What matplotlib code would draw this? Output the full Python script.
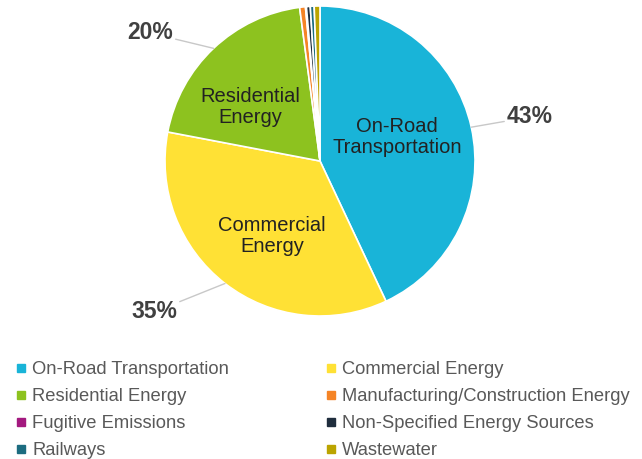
import numpy as np
import matplotlib
matplotlib.use('Agg')
import matplotlib.pyplot as plt
from matplotlib.lines import Line2D

plt.rcParams['font.family'] = ['Liberation Sans', 'DejaVu Sans']

# --- data ---
sectors = ['On-Road Transportation', 'Commercial Energy', 'Residential Energy',
           'Manufacturing/Construction Energy', 'Fugitive Emissions',
           'Non-Specified Energy Sources', 'Railways', 'Wastewater']
shares = [43.0, 35.0, 19.9, 0.6, 0.1, 0.4, 0.4, 0.6]
colors = ['#19B4D8', '#FFE135', '#8DC21F', '#F58426', '#A3197F',
          '#1F2D3D', '#1C6C80', '#BBA400']
inner_labels = ['On-Road\nTransportation', 'Commercial\nEnergy', 'Residential\nEnergy']
pct_labels = ['43%', '35%', '20%']

# label placement (data units, pie radius = 1)
inner_pos = [(0.497, 0.155), (-0.31, -0.484), (-0.452, 0.348)]
pct_pos = [(1.355, 0.284), (-1.071, -0.974), (-1.097, 0.826)]

W, H, DPI = 642, 459, 100
fig = plt.figure(figsize=(W / DPI, H / DPI), dpi=DPI)
cx, cy, box = 320, 161, 320
ax = fig.add_axes([(cx - box / 2) / W, (H - cy - box / 2) / H, box / W, box / H])

wedges, _ = ax.pie(shares, colors=colors, startangle=90, counterclock=False,
                   wedgeprops=dict(edgecolor='white', linewidth=1.2))
lim = box / 2 / 155
ax.set_xlim(-lim, lim)
ax.set_ylim(-lim, lim)
ax.set_aspect('equal')

for (x, y), txt in zip(inner_pos, inner_labels):
    ax.text(x, y, txt, ha='center', va='center', fontsize=14.5, color='#222222',
            linespacing=1.1)

for w, (x, y), txt in zip(wedges[:3], pct_pos, pct_labels):
    ang = np.deg2rad((w.theta1 + w.theta2) / 2)
    ax.annotate(txt, xy=(np.cos(ang), np.sin(ang)), xytext=(x, y),
                ha='center', va='center', fontsize=16.5, fontweight='bold',
                color='#404040',
                arrowprops=dict(arrowstyle='-', color='#C8C8C8', lw=1,
                                shrinkA=0, shrinkB=0))

# legend, filled row by row like the original
order = [0, 2, 4, 6, 1, 3, 5, 7]
handles = [Line2D([], [], linestyle='none', marker='s', markersize=5.5,
                  markerfacecolor=colors[i], markeredgecolor=colors[i])
           for i in order]
labels = [sectors[i] for i in order]
leg = fig.legend(handles, labels, ncol=2, loc='upper left',
                 bbox_to_anchor=(14.6 / W, 1 - 361 / H), frameon=False,
                 fontsize=13.2, handlelength=0.7, handletextpad=0.25,
                 columnspacing=5.2, labelspacing=0.55, borderpad=0,
                 borderaxespad=0)
for t in leg.get_texts():
    t.set_color('#595959')

fig.savefig('out.png', dpi=DPI)
